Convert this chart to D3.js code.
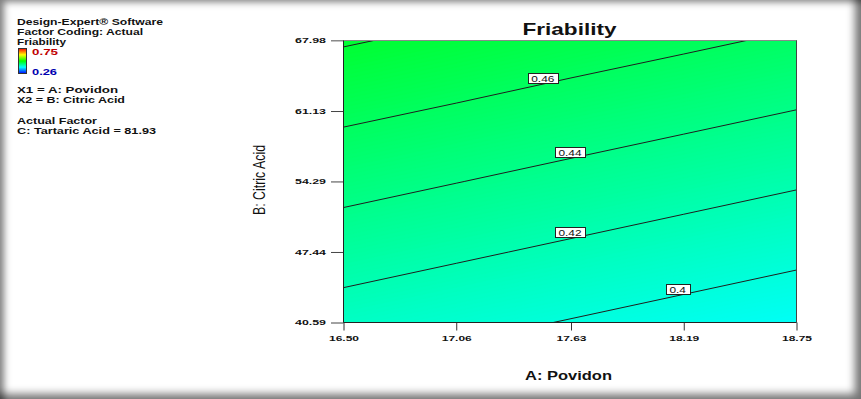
<!DOCTYPE html>
<html>
<head>
<meta charset="utf-8">
<script src="https://cdnjs.cloudflare.com/ajax/libs/d3/7.8.5/d3.min.js"></script>
<style>
  html, body { margin: 0; padding: 0; background: #fff; overflow: hidden; }
  #wrap { position: relative; width: 861px; height: 399px; }
  #frame {
    position: absolute; left: 0; top: 0; width: 861px; height: 399px; pointer-events: none;
    box-shadow: inset 7px 5px 7px -3px rgba(0,0,0,0.5), inset -12px -11px 8px -6px rgba(0,0,0,0.55);
  }
  svg { display: block; font-family: "Liberation Sans", Arial, sans-serif; }
</style>
</head>
<body>
<div id="wrap"><svg id="chart" width="861" height="399"></svg><div id="frame"></div></div>
<script>
/* global d3 */
const POVIDON_TICKS = [16.50, 17.06, 17.63, 18.19, 18.75];
const CITRIC_TICKS = [40.59, 47.44, 54.29, 61.13, 67.98];
// friability read at the tick crossings, rows from B = 40.59 up to B = 67.98
const FRIABILITY = [
  [0.4113, 0.4052, 0.3991, 0.3930, 0.3869],
  [0.4289, 0.4228, 0.4167, 0.4106, 0.4045],
  [0.4465, 0.4404, 0.4343, 0.4282, 0.4221],
  [0.4640, 0.4580, 0.4518, 0.4458, 0.4397],
  [0.4816, 0.4756, 0.4694, 0.4634, 0.4573]
];
const CONTOUR_LEVELS = [0.40, 0.42, 0.44, 0.46, 0.48];
const LABEL_LEVELS = [0.40, 0.42, 0.44, 0.46];
const LABEL_POVIDON = [18.16, 17.625, 17.625, 17.49];
const COLOR_RANGE = [0.26, 0.75];
const LEGEND_TOP = ['Design-Expert® Software', 'Factor Coding: Actual', 'Friability'];
const LEGEND_FACTORS = ['X1 = A: Povidon', 'X2 = B: Citric Acid'];
const LEGEND_ACTUAL = ['Actual Factor', 'C: Tartaric Acid = 81.93'];

const PLOT = { left: 343.5, right: 796.5, top: 40.5, bottom: 322.5 };
const RAMP = ['#0000ff', '#00ffff', '#00ff00', '#ffff00', '#ff0000'];

const $svg = d3.select('#chart');

function fit(sel, w) {
  return sel.attr('textLength', w).attr('lengthAdjust', 'spacingAndGlyphs');
}

const x = d3.scaleLinear().domain([POVIDON_TICKS[0], POVIDON_TICKS[4]]).range([PLOT.left, PLOT.right]);
const y = d3.scaleLinear().domain([CITRIC_TICKS[0], CITRIC_TICKS[4]]).range([PLOT.bottom, PLOT.top]);

// grid cell coordinates -> data units (d3.contours puts samples at i + 0.5)
const gx = d3.scaleLinear().domain([0.5, 4.5]).range(x.domain());
const gy = d3.scaleLinear().domain([0.5, 4.5]).range(y.domain());

const color = d3.scaleLinear()
  .domain(d3.range(5).map(i => COLOR_RANGE[0] + i * (COLOR_RANGE[1] - COLOR_RANGE[0]) / 4))
  .range(RAMP);

const values = FRIABILITY.flat();
const path = d3.geoPath(d3.geoTransform({
  point(px, py) { this.stream.point(x(gx(px)), y(gy(py))); }
}));

const defs = $svg.append('defs');
defs.append('clipPath').attr('id', 'plotClip')
  .append('rect')
  .attr('x', PLOT.left).attr('y', PLOT.top)
  .attr('width', PLOT.right - PLOT.left).attr('height', PLOT.bottom - PLOT.top);

//FILL
const fillLevels = d3.range(0.380, 0.490, 0.001);
const fills = d3.contours().size([5, 5]).thresholds(fillLevels)(values);

$svg.append('g').attr('clip-path', 'url(#plotClip)')
  .selectAll('path')
  .data(fills)
  .join('path')
  .attr('d', path)
  .attr('fill', d => color(d.value))
  .attr('stroke', d => color(d.value))
  .attr('stroke-width', 0.3);

//CONTOUR LINES
const lines = d3.contours().size([5, 5]).thresholds(CONTOUR_LEVELS)(values);
$svg.append('g').attr('clip-path', 'url(#plotClip)')
  .selectAll('path')
  .data(lines)
  .join('path')
  .attr('d', path)
  .attr('fill', 'none')
  .attr('stroke', '#1e1e1e')
  .attr('stroke-width', 1);

// find where a level's line crosses a given pixel x
function lineYAt(level, px) {
  const c = lines.find(d => Math.abs(d.value - level) < 1e-9);
  let found = null;
  c.coordinates.forEach(poly => poly.forEach(ring => {
    const pts = ring.map(p => [x(gx(p[0])), y(gy(p[1]))]);
    for (let i = 1; i < pts.length; i++) {
      const a = pts[i - 1], b = pts[i];
      const inside = p => p[0] >= PLOT.left - 0.5 && p[0] <= PLOT.right + 0.5 &&
        p[1] >= PLOT.top - 0.5 && p[1] <= PLOT.bottom + 0.5;
      if (!inside(a) || !inside(b)) continue;
      if ((a[0] - px) * (b[0] - px) <= 0 && a[0] !== b[0]) {
        found = a[1] + (px - a[0]) / (b[0] - a[0]) * (b[1] - a[1]);
      }
    }
  }));
  return found;
}

//CONTOUR LABELS
const $labels = $svg.append('g');
LABEL_LEVELS.forEach((lv, i) => {
  const px = x(LABEL_POVIDON[i]);
  const ly = lineYAt(lv, px);
  if (ly == null) return;
  const g = $labels.append('g');
  const t = g.append('text')
    .text(d3.format('')(lv))
    .attr('x', px).attr('y', ly - 2.5)
    .attr('text-anchor', 'middle')
    .attr('font-size', 9.5)
    .attr('fill', '#111');
  const w = t.node().getComputedTextLength() * 1.25;
  t.call(fit, w);
  const bw = w + 7;
  g.insert('rect', 'text')
    .attr('x', Math.round(px - bw / 2) + 0.5).attr('y', Math.round(ly - 11.5) + 0.5)
    .attr('width', Math.round(bw)).attr('height', 10)
    .attr('fill', '#fff').attr('stroke', '#222').attr('stroke-width', 1);
});

//AXES
const axisY = d3.axisLeft(y)
  .tickValues(CITRIC_TICKS)
  .tickFormat(d3.format('.2f'))
  .tickSize(12.5)
  .tickPadding(5);
const $gy = $svg.append('g').attr('transform', `translate(${PLOT.left},0)`).call(axisY);
$gy.select('.domain').remove();
$gy.selectAll('.tick line').attr('stroke', '#444');
$gy.selectAll('.tick text')
  .attr('font-size', 7.5).attr('font-weight', 'bold').attr('fill', '#111')
  .attr('font-family', '"Liberation Sans", Arial, sans-serif')
  .call(fit, 31);
$gy.select('.tick:last-of-type line').attr('stroke', '#888');

const axisX = d3.axisBottom(x)
  .tickValues(POVIDON_TICKS)
  .tickFormat(d3.format('.2f'))
  .tickSize(8)
  .tickPadding(4.5);
const $gx = $svg.append('g').attr('transform', `translate(0,${PLOT.bottom})`).call(axisX);
$gx.select('.domain').remove();
$gx.selectAll('.tick line').attr('stroke', '#333');
$gx.selectAll('.tick text')
  .attr('font-size', 8).attr('font-weight', 'bold').attr('fill', '#111')
  .attr('font-family', '"Liberation Sans", Arial, sans-serif')
  .call(fit, 30);

//PLOT FRAME
$svg.append('line').attr('x1', PLOT.left - 12.5).attr('x2', PLOT.right).attr('y1', PLOT.top).attr('y2', PLOT.top)
  .attr('stroke', '#8a8a8a');
$svg.append('line').attr('x1', PLOT.right).attr('x2', PLOT.right).attr('y1', PLOT.top).attr('y2', PLOT.bottom)
  .attr('stroke', '#444');
$svg.append('line').attr('x1', PLOT.left).attr('x2', PLOT.right).attr('y1', PLOT.bottom).attr('y2', PLOT.bottom)
  .attr('stroke', '#222');
$svg.append('line').attr('x1', PLOT.left).attr('x2', PLOT.left).attr('y1', PLOT.top).attr('y2', PLOT.bottom)
  .attr('stroke', '#222');

//TITLE
$svg.append('text')
  .text('Friability')
  .attr('x', 569.5).attr('y', 35)
  .attr('text-anchor', 'middle')
  .attr('font-size', 17).attr('font-weight', 'bold').attr('fill', '#111')
  .call(fit, 94);

//AXIS LABELS
$svg.append('text')
  .text('A: Povidon')
  .attr('x', 568.5).attr('y', 380)
  .attr('text-anchor', 'middle')
  .attr('font-size', 13).attr('font-weight', 'bold').attr('fill', '#111')
  .call(fit, 87);

$svg.append('text')
  .text('B: Citric Acid')
  .attr('transform', 'translate(265,180) scale(1.3,1) rotate(-90)')
  .attr('text-anchor', 'middle')
  .attr('font-size', 12.5).attr('fill', '#111')
  .call(fit, 70);

//LEGEND
const $legend = $svg.append('g').attr('font-weight', 'bold').attr('fill', '#111').attr('font-size', 9.5);
const topW = [146, 126, 49];
LEGEND_TOP.forEach((s, i) => {
  $legend.append('text').text(s).attr('x', 17).attr('y', 24.5 + i * 10).call(fit, topW[i]);
});
const factW = [101, 108];
LEGEND_FACTORS.forEach((s, i) => {
  $legend.append('text').text(s).attr('x', 17).attr('y', 93 + i * 10).call(fit, factW[i]);
});
const actW = [80, 139];
LEGEND_ACTUAL.forEach((s, i) => {
  $legend.append('text').text(s).attr('x', 17).attr('y', 124 + i * 10).call(fit, actW[i]);
});

const grad = defs.append('linearGradient').attr('id', 'ramp')
  .attr('x1', 0).attr('y1', 1).attr('x2', 0).attr('y2', 0);
RAMP.forEach((c, i) => grad.append('stop').attr('offset', i / (RAMP.length - 1)).attr('stop-color', c));

$legend.append('rect')
  .attr('x', 18.5).attr('y', 48.5).attr('width', 8).attr('height', 25)
  .attr('fill', 'url(#ramp)').attr('stroke', '#333');

$legend.append('text').text(d3.format('.2f')(COLOR_RANGE[1]))
  .attr('x', 32).attr('y', 55).attr('fill', '#c00000').call(fit, 26);
$legend.append('text').text(d3.format('.2f')(COLOR_RANGE[0]))
  .attr('x', 32).attr('y', 74.5).attr('fill', '#0000b0').call(fit, 25);
</script>
</body>
</html>
